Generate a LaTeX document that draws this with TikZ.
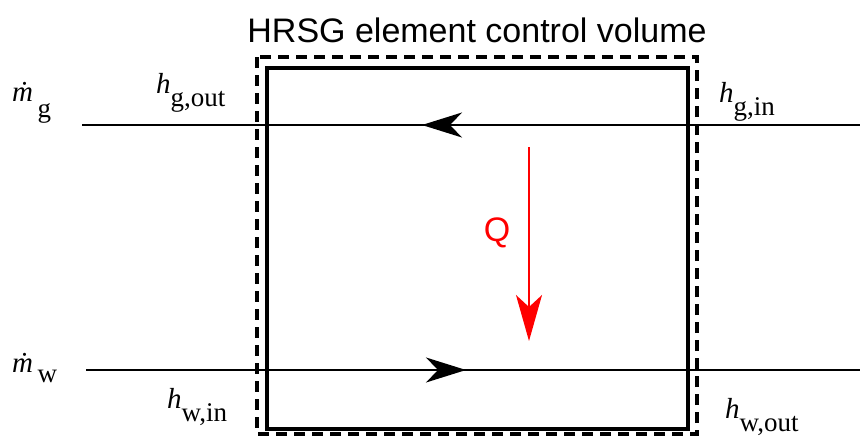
\documentclass[tikz,border=0pt]{standalone}
\usepackage{fontspec}
\setmainfont{Liberation Serif}
\newfontfamily\arialfont{Liberation Sans}
\usetikzlibrary{arrows.meta}
% symbol with a lowered, slightly smaller index
\newcommand{\lowidx}[3][13pt]{{\itshape #2}\raisebox{-#1}{\fontsize{27}{27}\selectfont #3}}

\begin{document}
\begin{tikzpicture}[x=1pt, y=-1pt,
    lbl/.style={anchor=base west, inner sep=0pt, font=\fontsize{29}{29}\selectfont},
    ttl/.style={anchor=base, inner sep=0pt, font=\arialfont\fontsize{34}{34}\selectfont},
    flow/.style={line width=1.5pt},
    flowtip/.style={line width=1.5pt, -{Stealth[length=40pt, width=25pt, inset=12pt]}},
    heat/.style={line width=1.5pt, red, -{Stealth[length=46pt, width=26pt, inset=12pt]}},
    cvsolid/.style={line width=4pt},
    cvdash/.style={line width=4pt, dash pattern=on 11pt off 7pt},
]
\useasboundingbox (0,0) rectangle (860,437);

% control volume
\draw[cvdash] (257,57) rectangle (697,434);
\draw[cvsolid] (267,68) rectangle (688,429);
\node[ttl] (title) at (477,42) {HRSG element control volume};

% gas stream (right to left)
\coordinate (gin) at (860,125);
\coordinate (gmid) at (462,125);
\coordinate (gtip) at (422,125);
\coordinate (gout) at (82,125);
\draw[flow] (gin) -- (gout);
\draw[flowtip] (gmid) -- (gtip);

% water stream (left to right)
\coordinate (win) at (86,370);
\coordinate (wmid) at (425,370);
\coordinate (wtip) at (466,370);
\coordinate (wout) at (860,370);
\draw[flow] (win) -- (wout);
\draw[flowtip] (wmid) -- (wtip);

% heat transfer
\coordinate (qtop) at (529,147);
\coordinate (qbot) at (529,341);
\draw[heat] (qtop) -- (qbot);
\node[ttl, anchor=center, text=red] (Q) at (497,233) {Q};

% labels
\node[lbl] (mg) at (12,101) {\lowidx[16pt]{\.{m}}{\,g}};
\node[lbl] (hgout) at (156,93) {\lowidx{h}{g,out}};
\node[lbl] (hgin) at (719,102) {\lowidx{h}{g,in}};
\node[lbl] (mw) at (12,372) {\lowidx[10pt]{\.{m}}{\,w}};
\node[lbl] (hwin) at (167,408) {\lowidx{h}{w,in}};
\node[lbl] (hwout) at (725,418) {\lowidx{h}{w,out}};
\end{tikzpicture}
\end{document}
